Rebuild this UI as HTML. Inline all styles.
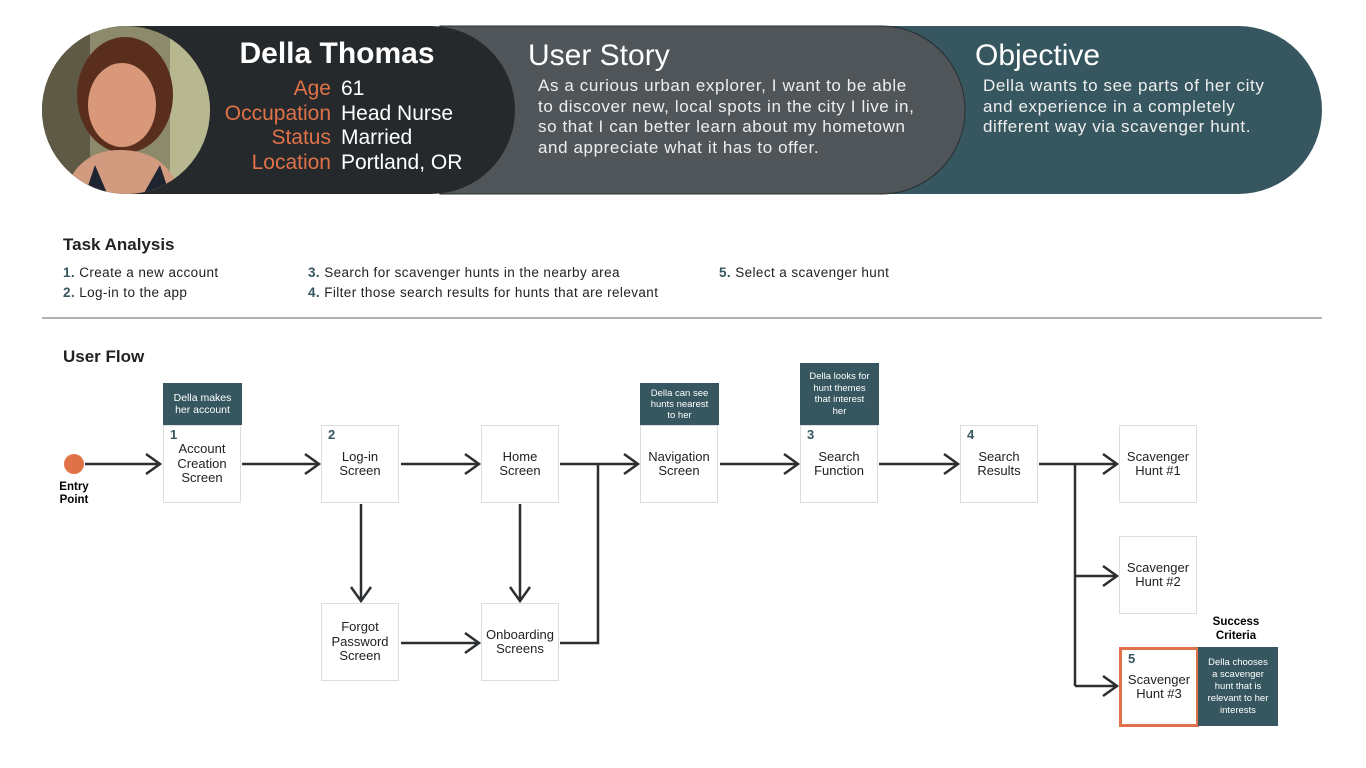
<!DOCTYPE html><html><head><style>
body{margin:0;width:1366px;height:768px;background:#fff;font-family:"Liberation Sans",sans-serif;position:relative;overflow:hidden}
.a{position:absolute}
</style></head><body>
<svg class="a" style="left:0;top:0" width="1366" height="768">
<defs>
<clipPath id="c"><ellipse cx="126" cy="110" rx="84" ry="84"/></clipPath>
</defs>
<path d="M440 26 H1238 A84 84 0 0 1 1238 194 H440 Z" fill="#36575f"/>
<path d="M440 26 H881 A84 84 0 0 1 881 194 H440 Z" fill="#4f5558" stroke="#2a2e30" stroke-width="1"/>
<path d="M126 26 H431 A84 84 0 0 1 431 194 H126 A84 84 0 0 1 126 26 Z" fill="#25292c"/>
<g clip-path="url(#c)">
<rect x="30" y="20" width="200" height="190" fill="#8c8a6a"/>
<rect x="30" y="20" width="60" height="190" fill="#5e5a45"/>
<rect x="170" y="20" width="60" height="190" fill="#b8b890"/>
<ellipse cx="125" cy="95" rx="48" ry="58" fill="#5a2e1c"/>
<ellipse cx="122" cy="105" rx="34" ry="42" fill="#d9987a"/>
<path d="M60 210 Q70 150 120 150 Q175 150 185 210 Z" fill="#d29a7e"/>
<path d="M80 210 L95 165 L110 200 L140 200 L160 165 L175 210Z" fill="#1e2530"/>
</g>
<g fill="none" stroke="#2c2f31" stroke-width="2.5">
<path d="M85 464 H160 M146 454 L160 464 L146 474"/>
<path d="M242 464 H319 M305 454 L319 464 L305 474"/>
<path d="M401 464 H479 M465 454 L479 464 L465 474"/>
<path d="M560 464 H638 M624 454 L638 464 L624 474"/>
<path d="M720 464 H798 M784 454 L798 464 L784 474"/>
<path d="M879 464 H958 M944 454 L958 464 L944 474"/>
<path d="M1039 464 H1117 M1103 454 L1117 464 L1103 474"/>
<path d="M1075 464 V686 M1075 576 H1117 M1103 566 L1117 576 L1103 586 M1075 686 H1117 M1103 676 L1117 686 L1103 696"/>
<path d="M361 504 V601 M351 587 L361 601 L371 587"/>
<path d="M520 504 V601 M510 587 L520 601 L530 587"/>
<path d="M401 643 H479 M465 633 L479 643 L465 653"/>
<path d="M560 643 H598 V464"/>
</g>
<circle cx="74" cy="464" r="10" fill="#e07249"/>
<line x1="42" y1="318" x2="1322" y2="318" stroke="#999" stroke-width="1.5"/>
</svg>
<div class="a" style="left:217px;top:37px;width:240px;text-align:center;color:#fff;font-weight:bold;font-size:30px">Della Thomas</div>
<div class="a" style="left:190px;top:77px;width:141px;text-align:right;color:#e07249;font-size:21px;line-height:24.5px">Age<br>Occupation<br>Status<br>Location</div>
<div class="a" style="left:341px;top:77px;color:#fff;font-size:21px;line-height:24.5px">61<br>Head Nurse<br>Married<br>Portland, OR</div>
<div class="a" style="left:528px;top:39px;color:#fff;font-size:30px">User Story</div>
<div class="a" style="left:538px;top:76px;color:#eee;font-size:17px;letter-spacing:.6px;line-height:20.5px;white-space:nowrap">As a curious urban explorer, I want to be able<br>to discover new, local spots in the city I live in,<br>so that I can better learn about my hometown<br>and appreciate what it has to offer.</div>
<div class="a" style="left:975px;top:39px;color:#fff;font-size:30px">Objective</div>
<div class="a" style="left:983px;top:76px;color:#eee;font-size:17px;letter-spacing:.6px;line-height:20.5px;white-space:nowrap">Della wants to see parts of her city<br>and experience in a completely<br>different way via scavenger hunt.</div>
<div class="a" style="left:63px;top:235px;font-size:17px;font-weight:bold;color:#222">Task Analysis</div>
<div class="a" style="left:63px;top:263px;font-size:13.5px;letter-spacing:.4px;line-height:20px;color:#222"><b style="color:#36575f">1.</b> Create a new account<br><b style="color:#36575f">2.</b> Log-in to the app</div>
<div class="a" style="left:308px;top:263px;font-size:13.5px;letter-spacing:.4px;line-height:20px;color:#222"><b style="color:#36575f">3.</b> Search for scavenger hunts in the nearby area<br><b style="color:#36575f">4.</b> Filter those search results for hunts that are relevant</div>
<div class="a" style="left:719px;top:263px;font-size:13.5px;letter-spacing:.4px;line-height:20px;color:#222"><b style="color:#36575f">5.</b> Select a scavenger hunt</div>
<div class="a" style="left:63px;top:347px;font-size:17px;font-weight:bold;color:#222">User Flow</div>
<div class="a" style="left:50px;top:481px;width:48px;text-align:center;font-size:11.5px;font-weight:bold;line-height:13px">Entry<br>Point</div>
<style>
.b{position:absolute;width:76px;height:76px;border:1.5px solid #ddd;background:#fff;font-size:13px;line-height:14.5px;text-align:center;display:flex;align-items:center;justify-content:center;color:#222;box-sizing:content-box}
.n{position:absolute;left:6px;top:2px;font-weight:bold;font-size:13px;color:#36575f}
.t{position:absolute;background:#36575f;color:#fff;font-size:10.5px;line-height:12.5px;text-align:center;display:flex;align-items:center;justify-content:center}
</style>
<div class="t" style="left:163px;top:383px;width:79px;height:42px">Della makes<br>her account</div>
<div class="t" style="left:640px;top:383px;width:79px;height:42px;font-size:9.5px;line-height:11px">Della can see<br>hunts nearest<br>to her</div>
<div class="t" style="left:800px;top:363px;width:79px;height:62px;font-size:9.5px;line-height:11.5px">Della looks for<br>hunt themes<br>that interest<br>her</div>
<div class="b" style="left:163px;top:425px"><span class="n">1</span>Account<br>Creation<br>Screen</div>
<div class="b" style="left:321px;top:425px"><span class="n">2</span>Log-in<br>Screen</div>
<div class="b" style="left:481px;top:425px">Home<br>Screen</div>
<div class="b" style="left:640px;top:425px">Navigation<br>Screen</div>
<div class="b" style="left:800px;top:425px"><span class="n">3</span>Search<br>Function</div>
<div class="b" style="left:960px;top:425px"><span class="n">4</span>Search<br>Results</div>
<div class="b" style="left:1119px;top:425px">Scavenger<br>Hunt #1</div>
<div class="b" style="left:1119px;top:536px">Scavenger<br>Hunt #2</div>
<div class="b" style="left:321px;top:603px">Forgot<br>Password<br>Screen</div>
<div class="b" style="left:481px;top:603px">Onboarding<br>Screens</div>
<div class="b" style="left:1119px;top:647px;width:74px;height:74px;border:3px solid #e07249"><span class="n">5</span>Scavenger<br>Hunt #3</div>
<div class="a" style="left:1198px;top:615px;width:76px;text-align:center;font-size:11.5px;font-weight:bold;line-height:14px">Success<br>Criteria</div>
<div class="t" style="left:1198px;top:647px;width:80px;height:79px;font-size:9.5px;line-height:12px">Della chooses<br>a scavenger<br>hunt that is<br>relevant to her<br>interests</div>
</body></html>
